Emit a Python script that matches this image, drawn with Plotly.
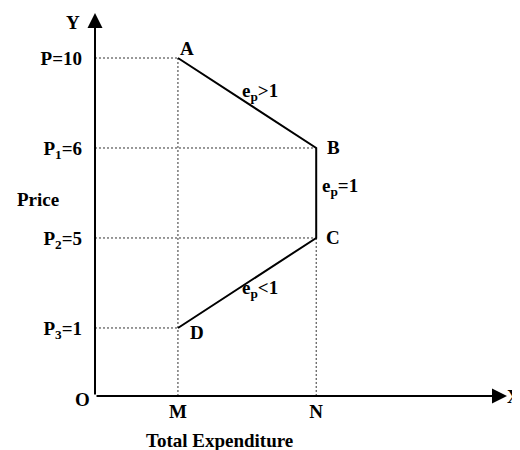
import plotly.graph_objects as go

# ---- data ----
points = ["A", "B", "C", "D"]
price_labels = ["P=10", "P<sub>1</sub>=6", "P<sub>2</sub>=5", "P<sub>3</sub>=1"]
price_values = [10, 6, 5, 1]
price_level = [4, 3, 2, 1]          # schematic (evenly spaced) level on the price axis
exp_labels = ["M", "N"]
exp_values = [6, 16]                # schematic total expenditure positions
point_exp = ["M", "N", "N", "M"]    # expenditure of A, B, C, D
segment_labels = ["e<sub>p</sub>&gt;1", "e<sub>p</sub>=1", "e<sub>p</sub>&lt;1"]

exp_map = dict(zip(exp_labels, exp_values))
px_ = [exp_map[e] for e in point_exp]
py_ = price_level

X0, X1 = 0, 29.8
Y0, Y1 = 0.244, 4.5

FONT = "Liberation Serif"
fs = 19

fig = go.Figure()
fig.add_trace(go.Scatter(x=px_, y=py_, mode="lines",
                         line=dict(color="black", width=2),
                         hoverinfo="skip", showlegend=False))

dot = dict(color="#333333", width=1, dash="2px,2px")
shapes = []
for x, y in zip(px_, py_):
    shapes.append(dict(type="line", xref="x", yref="y", x0=X0, x1=x, y0=y, y1=y, line=dot, layer="below"))
shapes.append(dict(type="line", xref="x", yref="y", x0=px_[0], x1=px_[0], y0=py_[0], y1=Y0, line=dot, layer="below"))
shapes.append(dict(type="line", xref="x", yref="y", x0=px_[2], x1=px_[2], y0=py_[2], y1=Y0, line=dot, layer="below"))

ann = []
ann.append(dict(x=X1, y=Y0, ax=X0, ay=Y0, xref="x", yref="y", axref="x", ayref="y", text="",
                showarrow=True, arrowhead=2, arrowsize=1.5, arrowwidth=2, arrowcolor="black", standoff=0))
ann.append(dict(x=X0, y=Y1, ax=X0, ay=Y0, xref="x", yref="y", axref="x", ayref="y", text="",
                showarrow=True, arrowhead=2, arrowsize=1.5, arrowwidth=2, arrowcolor="black", standoff=0))

tf = dict(family=FONT, size=fs, color="black", weight="bold")
ann.append(dict(x=X0, y=Y0, text="O", showarrow=False, xanchor="right", yanchor="middle",
                xshift=-3, yshift=-3, font=tf))
ann.append(dict(x=X0, y=Y1, text="Y", showarrow=False, xanchor="right", yanchor="middle",
                xshift=-13, yshift=-9, font=tf))
ann.append(dict(x=X1, y=Y0, text="X", showarrow=False, xanchor="left", yanchor="middle",
                xshift=-2, yshift=-1, font=dict(family=FONT, size=18, color="black", weight="bold")))
ann.append(dict(xref="paper", yref="paper", x=-0.138, y=0.514, text="Price", showarrow=False,
                xanchor="center", yanchor="middle", font=tf))
ann.append(dict(xref="paper", yref="paper", x=0.303, y=-0.115, text="Total Expenditure", showarrow=False,
                xanchor="center", yanchor="middle", font=tf))

offs = {"A": (9, 10), "B": (17, 0), "C": (17, 0), "D": (19, -5)}
for name, x, y in zip(points, px_, py_):
    dx, dy = offs[name]
    ann.append(dict(x=x, y=y, text=name, showarrow=False, xanchor="center", yanchor="middle",
                    xshift=dx, yshift=dy, font=tf))

seg_offs = [(13, 11, "center"), (4, 6, "left"), (13, -6, "center")]
for i, lab in enumerate(segment_labels):
    mx = (px_[i] + px_[i + 1]) / 2
    my = (py_[i] + py_[i + 1]) / 2
    dx, dy, anc = seg_offs[i]
    ann.append(dict(x=mx, y=my, text=lab, showarrow=False, xanchor=anc, yanchor="middle",
                    xshift=dx, yshift=dy, font=tf))

# page body has an 8px default margin, so the figure is sized to fit inside the window
fig.update_layout(
    width=512, height=442,
    margin=dict(l=87, r=13, t=5, b=54),
    paper_bgcolor="white", plot_bgcolor="white",
    showlegend=False,
    shapes=shapes, annotations=ann,
    font=dict(family=FONT, size=fs, color="black", weight="bold"),
    xaxis=dict(range=[X0, X1], showgrid=False, zeroline=False, showline=False,
               tickvals=exp_values, ticktext=exp_labels, ticks="", ticklabelstandoff=2,
               tickfont=tf, fixedrange=True),
    yaxis=dict(range=[Y0, Y1], showgrid=False, zeroline=False, showline=False,
               tickvals=price_level, ticktext=price_labels, ticks="", ticklabelstandoff=12,
               tickfont=tf, fixedrange=True),
)

fig.write_html("out.html")
